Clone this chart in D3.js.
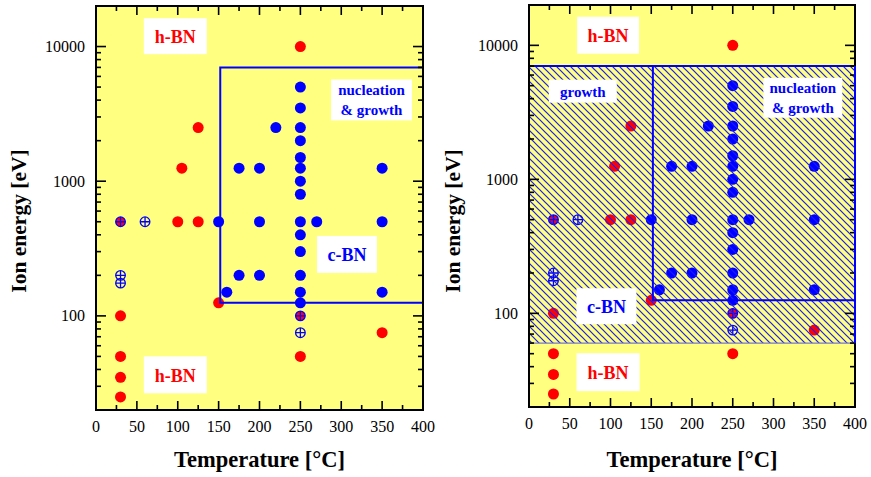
<!DOCTYPE html>
<html lang="en">
<head>
<meta charset="UTF-8" />
<title>c-BN phase diagram</title>
<style>
  body { margin: 0; background: #fff; }
  svg text { font-family: "Liberation Serif", "Times New Roman", serif; }
</style>
</head>
<body>
<script src="https://cdn.jsdelivr.net/npm/d3@7"></script>
<div id="app"></div>
<script>
// data: temperature [°C] / ion energy [eV]
const redT = [250, 125, 105, 100, 125, 150, 30, 30, 30, 30, 250, 350];
const redE = [10000, 2500, 1250, 500, 500, 125, 100, 50, 35, 25, 50, 75];

const blueT = [250, 250, 250, 250, 250, 250, 250, 250, 250, 250, 250, 250, 250, 250,
               220, 175, 200, 350, 150, 200, 270, 350, 175, 200, 160, 350];
const blueE = [5000, 3500, 2500, 2000, 1500, 1250, 1000, 800, 500, 400, 300, 200, 150, 125,
               2500, 1250, 1250, 1250, 500, 500, 500, 500, 200, 200, 150, 150];

// red filled circle with blue cross
const mixT = [30, 250];
const mixE = [500, 100];

// open circle with cross
const openT = [60, 30, 30, 250];
const openE = [500, 200, 175, 75];

const xTicks = [0, 50, 100, 150, 200, 250, 300, 350, 400];
const yTickLabels = [100, 1000, 10000];

// region boundaries
const cbnT = 152, cbnTopE = 7000, cbnLowE = 125;
const growthLowE = 60;

const w = 871, h = 477;
const yellow = "#ffff80", red = "#ff0000", blue = "#0000ff";

const svg = d3.select("#app").append("svg")
  .attr("width", w).attr("height", h);

const defs = svg.append("defs");
const pat = defs.append("pattern")
  .attr("id", "hatch")
  .attr("patternUnits", "userSpaceOnUse")
  .attr("width", 7).attr("height", 7);
pat.append("path")
  .attr("d", "M-1,-1 L8,8 M-1,6 L1,8 M6,-1 L8,1")
  .attr("stroke", "#1a1aff").attr("stroke-width", 1.2);

const panels = [
  { x0: 96, x1: 423, y0: 6, y1: 410, hatch: false, ytx: 26,
    labels: [
      { t: 97, e: 11940, w: 63, h: 36, lines: ["h-BN"], c: red, fs: 18 },
      { t: 337, e: 4015, w: 81, h: 41, lines: ["nucleation", "& growth"], c: blue, fs: 15 },
      { t: 307, e: 286, w: 60, h: 37, lines: ["c-BN"], c: blue, fs: 18 },
      { t: 97, e: 36.5, w: 63, h: 37, lines: ["h-BN"], c: red, fs: 18 }
    ] },
  { x0: 529, x1: 855, y0: 5, y1: 407, hatch: true, ytx: 460,
    labels: [
      { t: 97, e: 11900, w: 62, h: 37, lines: ["h-BN"], c: red, fs: 18 },
      { t: 66, e: 4550, w: 68, h: 23, lines: ["growth"], c: blue, fs: 15 },
      { t: 336, e: 4064, w: 79, h: 40, lines: ["nucleation", "& growth"], c: blue, fs: 15 },
      { t: 95, e: 113, w: 60, h: 36, lines: ["c-BN"], c: blue, fs: 18 },
      { t: 97, e: 36.4, w: 63, h: 38, lines: ["h-BN"], c: red, fs: 18 }
    ] }
];

panels.forEach(p => {
  const x = d3.scaleLinear().domain([0, 400]).range([p.x0, p.x1]);
  const y = d3.scaleLog().domain([20, 20000]).range([p.y1, p.y0]);
  const g = svg.append("g");

  // background
  g.append("rect")
    .attr("x", p.x0).attr("y", p.y0)
    .attr("width", p.x1 - p.x0).attr("height", p.y1 - p.y0)
    .attr("fill", yellow);

  // points
  g.selectAll(".red").data(redT).enter().append("circle")
    .attr("cx", (d) => x(d)).attr("cy", (d, i) => y(redE[i]))
    .attr("r", 5.5).attr("fill", red);

  g.selectAll(".blue").data(blueT).enter().append("circle")
    .attr("cx", (d) => x(d)).attr("cy", (d, i) => y(blueE[i]))
    .attr("r", 5.5).attr("fill", blue);

  const cross = (sel, fill) => {
    sel.append("circle").attr("r", 4.8)
      .attr("fill", fill).attr("stroke", blue).attr("stroke-width", 1.3);
    sel.append("path").attr("d", "M-4.8,0 H4.8 M0,-4.8 V4.8")
      .attr("stroke", blue).attr("stroke-width", 1.3);
  };
  g.selectAll(".mix").data(mixT).enter().append("g")
    .attr("transform", (d, i) => "translate(" + x(d) + "," + y(mixE[i]) + ")")
    .call(cross, red);
  g.selectAll(".open").data(openT).enter().append("g")
    .attr("transform", (d, i) => "translate(" + x(d) + "," + y(openE[i]) + ")")
    .call(cross, "none");

  // hatched growth region (right panel only)
  if (p.hatch) {
    g.append("rect")
      .attr("x", x(0)).attr("y", y(cbnTopE))
      .attr("width", x(400) - x(0)).attr("height", y(growthLowE) - y(cbnTopE))
      .attr("fill", "url(#hatch)");
    g.append("path")
      .attr("d", "M" + x(0) + "," + y(cbnTopE) + " H" + x(400) + " V" + y(growthLowE))
      .attr("fill", "none").attr("stroke", blue).attr("stroke-width", 2);
    g.append("path")
      .attr("d", "M" + x(0) + "," + y(growthLowE) + " H" + x(400))
      .attr("fill", "none").attr("stroke", "#7777cc").attr("stroke-width", 1.3);
  }

  // nucleation region boundary
  g.append("path")
    .attr("d", "M" + x(400) + "," + y(cbnTopE) + " H" + x(cbnT) +
               " V" + y(cbnLowE) + " H" + x(400))
    .attr("fill", "none").attr("stroke", blue).attr("stroke-width", 2);

  // labels
  p.labels.forEach(l => {
    const cx = x(l.t), cy = y(l.e);
    g.append("rect")
      .attr("x", cx - l.w / 2).attr("y", cy - l.h / 2)
      .attr("width", l.w).attr("height", l.h).attr("fill", "#fff");
    const t = g.append("text")
      .attr("text-anchor", "middle")
      .attr("font-weight", "bold").attr("font-size", l.fs).attr("fill", l.c);
    if (l.lines.length == 1) {
      t.append("tspan").attr("x", cx).attr("y", cy + l.fs * 0.38).text(l.lines[0]);
    } else {
      t.append("tspan").attr("x", cx).attr("y", cy - 5).text(l.lines[0]);
      t.append("tspan").attr("x", cx).attr("y", cy + 15).text(l.lines[1]);
    }
  });

  // ticks on all four sides, pointing inward
  const xMinor = d3.range(0, 401, 25);
  const yAll = [];
  [10, 100, 1000, 10000].forEach(dec => {
    for (let k = 1; k < 10; k++) {
      const v = dec * k;
      if (v >= 20 && v <= 20000) yAll.push(v);
    }
  });
  const tk = g.append("g").attr("stroke", "#000").attr("stroke-width", 1.6);
  xMinor.forEach(v => {
    const len = v % 50 == 0 ? 9 : 5;
    tk.append("line").attr("x1", x(v)).attr("x2", x(v))
      .attr("y1", p.y1).attr("y2", p.y1 - len);
    tk.append("line").attr("x1", x(v)).attr("x2", x(v))
      .attr("y1", p.y0).attr("y2", p.y0 + len);
  });
  yAll.forEach(v => {
    const major = Math.abs(Math.log10(v) % 1) < 1e-9;
    const len = major ? 10 : 5;
    tk.append("line").attr("y1", y(v)).attr("y2", y(v))
      .attr("x1", p.x0).attr("x2", p.x0 + len);
    tk.append("line").attr("y1", y(v)).attr("y2", y(v))
      .attr("x1", p.x1).attr("x2", p.x1 - len);
  });

  // frame
  g.append("rect")
    .attr("x", p.x0).attr("y", p.y0)
    .attr("width", p.x1 - p.x0).attr("height", p.y1 - p.y0)
    .attr("fill", "none").attr("stroke", "#000").attr("stroke-width", 2);
  if (p.hatch) {
    g.append("line")
      .attr("x1", p.x1).attr("x2", p.x1)
      .attr("y1", y(cbnTopE)).attr("y2", y(growthLowE))
      .attr("stroke", blue).attr("stroke-width", 2);
  }

  // tick labels
  g.selectAll(".xl").data(xTicks).enter().append("text")
    .attr("x", (d) => x(d)).attr("y", p.y1 + 22)
    .attr("text-anchor", "middle").attr("font-size", 16)
    .text((d) => d);
  g.selectAll(".yl").data(yTickLabels).enter().append("text")
    .attr("x", p.x0 - 11).attr("y", (d) => y(d) + 5.5)
    .attr("text-anchor", "end").attr("font-size", 16)
    .text((d) => d);

  // axis titles
  g.append("text")
    .attr("x", (p.x0 + p.x1) / 2).attr("y", 467)
    .attr("text-anchor", "middle").attr("font-size", 22.5).attr("font-weight", "bold")
    .text("Temperature [°C]");
  g.append("text")
    .attr("transform", "translate(" + p.ytx + "," + 221 + ") rotate(-90)")
    .attr("text-anchor", "middle").attr("font-size", 21.5).attr("font-weight", "bold")
    .text("Ion energy [eV]");
});
</script>
</body>
</html>
